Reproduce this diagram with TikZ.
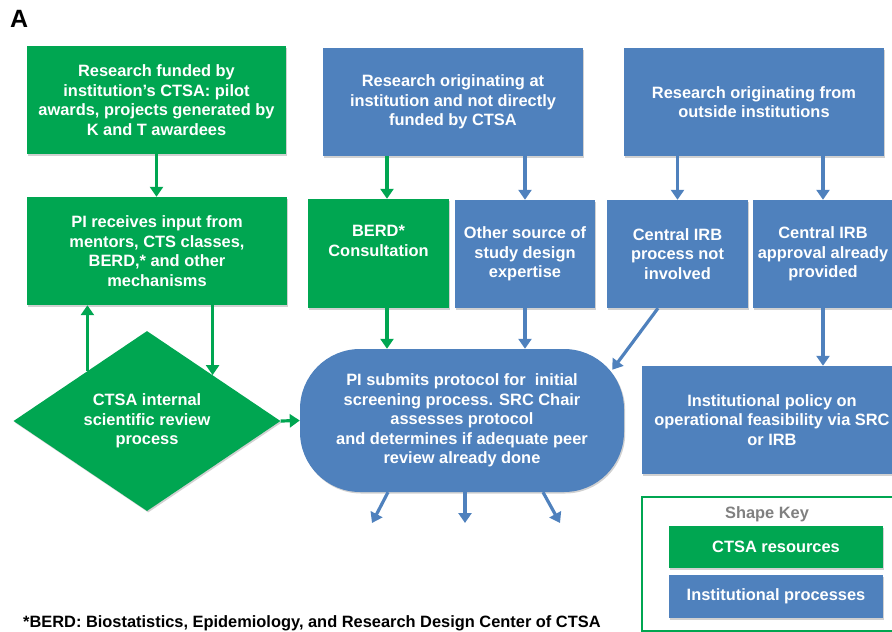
\documentclass[tikz,border=0pt]{standalone}
\usepackage{fontspec}
\setmainfont{Liberation Sans}
\usetikzlibrary{arrows.meta,positioning,shapes.geometric,shadows}
\definecolor{ctsagreen}{RGB}{0,166,81}
\definecolor{instblue}{RGB}{79,129,189}

\begin{document}
\begin{tikzpicture}[
    x=1pt, y=-1pt,
    every node/.style={font=\fontsize{16.4}{19.6}\selectfont\bfseries},
    box/.style={align=center, text=white, inner sep=0pt,
        drop shadow={shadow xshift=1.2pt, shadow yshift=-1.5pt, opacity=0.3, fill=black!60}},
    ctsabox/.style={box, fill=ctsagreen},
    instbox/.style={box, fill=instblue},
    ctsaarrow/.style={ctsagreen, line width=3.2pt, -{Triangle[width=13pt,length=10pt]}},
    instarrow/.style={instblue, line width=3.2pt, -{Triangle[width=13pt,length=10pt]}}
]
    \useasboundingbox (0,0) rectangle (892,632);

    % Panel letter
    \node[font=\fontsize{25}{30}\selectfont\bfseries, anchor=north west, inner sep=0pt] (panel) at (10,10) {A};

    % Top row: where the research comes from
    \node[ctsabox, minimum width=259pt, minimum height=108pt] (fund) at (156.5,100)
        {Research funded by\\institution’s CTSA: pilot\\awards, projects generated by\\K and T awardees};
    \node[instbox, minimum width=260pt, minimum height=108pt] (atinst) at (453,102)
        {Research originating at\\institution and not directly\\funded by CTSA};
    \node[instbox, minimum width=260pt, minimum height=108pt] (outside) at (754,102)
        {Research originating from\\outside institutions};

    % Second row
    \node[ctsabox, minimum width=260pt, minimum height=108pt] (input) at (157,251)
        {PI receives input from\\mentors, CTS classes,\\BERD,* and other\\mechanisms};
    \node[ctsabox, minimum width=141pt, minimum height=109pt] (berd) at (378.5,253.5)
        {BERD*\\Consultation\\\strut};
    \node[instbox, minimum width=140pt, minimum height=108pt] (other) at (525,254)
        {Other source of\\study design\\expertise};
    \node[instbox, minimum width=141pt, minimum height=108pt] (notinv) at (677.5,254)
        {Central IRB\\process not\\involved};
    \node[instbox, minimum width=140pt, minimum height=108pt] (approved) at (823,254)
        {Central IRB\\approval already\\provided};

    % Review and screening
    \node[ctsabox, diamond, aspect=1.48, minimum width=267pt, minimum height=180pt] (review) at (147,421)
        {CTSA internal\\scientific review\\process};
    \node[instbox, rounded corners=60pt, minimum width=324pt, minimum height=143pt] (submit) at (462,420.5)
        {PI submits protocol for\ \ initial\\screening process. SRC Chair\\assesses protocol\\and determines if adequate peer\\review already done};
    \node[instbox, minimum width=260pt, minimum height=108pt] (policy) at (772,420)
        {Institutional policy on\\operational feasibility via SRC\\or IRB};

    % Arrows
    \draw[ctsaarrow] (fund.south) -- (fund.south |- input.north);
    \draw[ctsaarrow] (review.140) -- (review.140 |- input.south);
    \draw[ctsaarrow] (review.35 |- input.south) -- (review.35);
    \draw[ctsaarrow] (review.east) -- (submit.west);
    \draw[ctsaarrow] ([xshift=8.5pt]berd.north |- atinst.south) -- ([xshift=8.5pt]berd.north);
    \draw[ctsaarrow] ([xshift=8.5pt]berd.south) -- ([xshift=8.5pt]berd.south |- submit.north);
    \draw[instarrow] (other.north |- atinst.south) -- (other.north);
    \draw[instarrow] (other.south) -- (other.south |- submit.north);
    \draw[instarrow] (notinv.north |- outside.south) -- (notinv.north);
    \draw[instarrow] ([xshift=-19.5pt]notinv.south) -- ([xshift=-12pt,yshift=-21pt]submit.north east);
    \draw[instarrow] (approved.north |- outside.south) -- (approved.north);
    \draw[instarrow] (approved.south) -- (approved.south |- policy.north);

    % Open ends below the screening step
    \coordinate (outleft) at (372,523);
    \coordinate (outmid) at (465,523);
    \coordinate (outright) at (560,523);
    \draw[instarrow] ([xshift=-74pt]submit.south) -- (outleft);
    \draw[instarrow] (outmid |- submit.south) -- (outmid);
    \draw[instarrow] ([xshift=81pt]submit.south) -- (outright);

    % Shape key
    \draw[ctsagreen, line width=2pt] (642,497) rectangle (905,631);
    \node[text=black!50] (keytitle) at (767,514) {Shape Key};
    \node[ctsabox, minimum width=214pt, minimum height=42pt] (keyctsa) at (776,547) {CTSA resources};
    \node[instbox, minimum width=214pt, minimum height=43pt] (keyinst) at (776,596.5) {Institutional processes};

    % Footnote
    \node[anchor=base west, inner sep=0pt] (note) at (23,627.5)
        {*BERD: Biostatistics, Epidemiology, and Research Design Center of CTSA};
\end{tikzpicture}
\end{document}
